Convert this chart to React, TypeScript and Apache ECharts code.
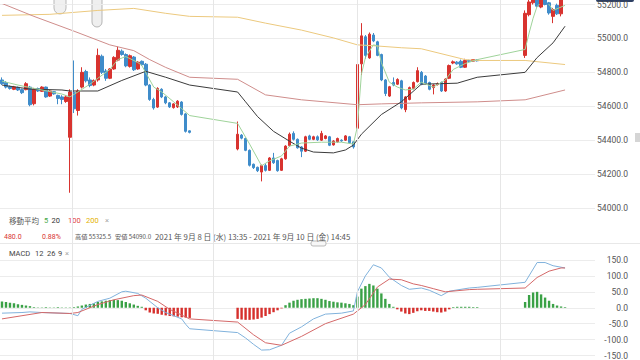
import React, { useEffect, useRef } from 'react';
import * as echarts from 'echarts';

// ---------- DATA ----------
const SLOT_COUNT = 149;
const categories = Array.from({ length: SLOT_COUNT }, (_, i) => `bar${i}`);

// candles: [open, close, low, high]
const session1Candles: number[][] = [
  [54755, 54733, 54725, 54770], [54740, 54713, 54705, 54748], [54716, 54705, 54698, 54722], [54700, 54714, 54695, 54720],
  [54712, 54696, 54690, 54716], [54698, 54680, 54672, 54704], [54698, 54733, 54694, 54742], [54713, 54609, 54600, 54720],
  [54615, 54702, 54605, 54708], [54704, 54690, 54684, 54710], [54688, 54713, 54684, 54718], [54713, 54655, 54650, 54716],
  [54660, 54690, 54655, 54694], [54686, 54673, 54668, 54690], [54664, 54646, 54612, 54668], [54655, 54640, 54612, 54665],
  [54628, 54655, 54620, 54665], [54417, 54684, 54090, 54700], [54680, 54585, 54560, 54870], [54575, 54690, 54545, 54700],
  [54713, 54800, 54705, 54830], [54805, 54750, 54740, 54815], [54755, 54722, 54712, 54770], [54725, 54752, 54718, 54758],
  [54755, 54900, 54745, 54940], [54895, 54800, 54790, 54905], [54808, 54765, 54750, 54820], [54765, 54820, 54760, 54825],
  [54820, 54888, 54815, 54895], [54872, 54930, 54865, 54952], [54925, 54905, 54898, 54935], [54905, 54838, 54830, 54912],
  [54835, 54898, 54828, 54905], [54890, 54815, 54808, 54896], [54820, 54860, 54815, 54866], [54865, 54845, 54838, 54870],
  [54848, 54725, 54718, 54855], [54725, 54640, 54632, 54730], [54640, 54590, 54580, 54650], [54595, 54705, 54590, 54712],
  [54700, 54655, 54648, 54706], [54655, 54620, 54612, 54660], [54620, 54596, 54590, 54625], [54592, 54614, 54586, 54618],
  [54596, 54630, 54590, 54636], [54625, 54552, 54545, 54630], [54555, 54452, 54445, 54560], [54455, 54446, 54440, 54458],
];
const gap1 = 11;
const session2Candles: number[][] = [
  [54348, 54435, 54340, 54510], [54430, 54412, 54405, 54436], [54410, 54340, 54335, 54415], [54340, 54252, 54245, 54345],
  [54258, 54238, 54230, 54262], [54240, 54220, 54212, 54244], [54212, 54250, 54157, 54256], [54250, 54222, 54215, 54262],
  [54222, 54295, 54218, 54300], [54295, 54267, 54260, 54325], [54280, 54220, 54214, 54285], [54222, 54290, 54218, 54296],
  [54290, 54365, 54285, 54370], [54368, 54435, 54362, 54445], [54440, 54405, 54398, 54452], [54405, 54355, 54350, 54410],
  [54360, 54335, 54300, 54365], [54335, 54420, 54330, 54426], [54425, 54405, 54400, 54432], [54405, 54420, 54400, 54426],
  [54420, 54402, 54396, 54428], [54400, 54440, 54395, 54455], [54410, 54425, 54405, 54430], [54420, 54370, 54365, 54425],
  [54372, 54395, 54368, 54400], [54390, 54410, 54385, 54415], [54400, 54396, 54390, 54405], [54400, 54425, 54395, 54430],
  [54420, 54385, 54378, 54425], [54390, 54360, 54350, 54395],
  [54470, 54846, 54450, 54870], [54850, 55015, 54785, 55090], [55010, 54900, 54880, 55020], [54885, 55025, 54880, 55035],
  [55020, 54985, 54978, 55032], [54980, 54900, 54895, 54986], [54905, 54755, 54748, 54910], [54755, 54675, 54660, 54760],
  [54660, 54715, 54655, 54720], [54740, 54725, 54718, 54770], [54730, 54758, 54725, 54765], [54750, 54590, 54582, 54756],
  [54580, 54655, 54565, 54660], [54640, 54710, 54635, 54716], [54705, 54740, 54700, 54746], [54745, 54810, 54740, 54830],
  [54800, 54730, 54724, 54808], [54778, 54735, 54728, 54784], [54740, 54700, 54694, 54745], [54710, 54725, 54670, 54730],
  [54728, 54733, 54722, 54740], [54740, 54690, 54684, 54746], [54690, 54760, 54685, 54765], [54765, 54840, 54760, 54846],
  [54855, 54862, 54848, 54870], [54860, 54850, 54845, 54866], [54865, 54830, 54825, 54875], [54830, 54870, 54826, 54880],
  [54870, 54865, 54860, 54874], [54866, 54875, 54862, 54878], [54873, 54868, 54864, 54877],
];
const gap2 = 11;
const session3Candles: number[][] = [
  [54900, 55148, 54885, 55165], [55140, 55215, 55130, 55240], [55210, 55290, 55200, 55325.5], [55290, 55190, 55182, 55300],
  [55185, 55260, 55178, 55270], [55255, 55200, 55195, 55262], [55210, 55150, 55140, 55215], [55130, 55170, 55090, 55180],
  [55195, 55145, 55138, 55205], [55145, 55230, 55130, 55240], [55222, 55250, 55215, 55258],
];
const trailingEmpty = 7;

// moving averages: [slot, value]
const ma5: number[][] = [
  [0, 54748], [4, 54725], [10, 54696], [15, 54672], [17, 54655], [19, 54684], [22, 54730], [24, 54765], [27, 54817],
  [29, 54875], [31, 54893], [34, 54858], [35, 54841], [38, 54713], [40, 54684], [43, 54626], [45, 54586], [47, 54545],
  [59, 54499], [62, 54377], [65, 54249], [67, 54278], [70, 54307], [72, 54365], [75, 54383], [80, 54388], [85, 54388],
  [88, 54377], [89, 54481], [90, 54788], [91, 54887], [93, 54962], [94, 54957], [95, 54858], [97, 54742], [99, 54713],
  [101, 54696], [103, 54701], [105, 54742], [108, 54713], [111, 54754], [113, 54817], [116, 54852], [119, 54875],
  [131, 54935], [132, 55032], [133, 55119], [134, 55189], [136, 55235], [138, 55165], [141, 55195],
];
const ma20: number[][] = [
  [0, 54725], [7, 54701], [15, 54696], [17, 54690], [24, 54690], [30, 54752], [36, 54806], [41, 54771], [47, 54725],
  [59, 54684], [61, 54626], [64, 54539], [68, 54452], [72, 54394], [75, 54353], [78, 54330], [83, 54325], [86, 54342],
  [88, 54371], [90, 54435], [95, 54551], [100, 54626], [105, 54730], [114, 54736], [119, 54771], [131, 54800],
  [134, 54887], [138, 54974], [141, 55072],
];
const ma100: number[][] = [
  [0, 55206], [8, 55130], [18, 55043], [27, 54962], [33, 54928], [37, 54875], [41, 54829], [47, 54771], [59, 54759],
  [66, 54667], [75, 54638], [89, 54609], [95, 54614], [105, 54620], [119, 54626], [131, 54638], [141, 54696],
];
const ma200: number[][] = [
  [0, 55136], [12, 55142], [24, 55165], [33, 55177], [41, 55148], [47, 55130], [59, 55125], [66, 55090], [75, 55049],
  [83, 55003], [89, 54962], [93, 54957], [100, 54945], [105, 54939], [116, 54875], [119, 54870], [131, 54870], [141, 54846],
];

// MACD histogram per slot
const hist1 = [
  20, 18, 16, 14, 11, 9, 7, 5, 2, 1, 1, 2, 1, 1, 2, 1, 1, 1, 2, 4, 7, 10, 12, 14, 18, 20, 22, 24, 25, 24, 22, 18, 14, 10,
  6, 3, -8, -15, -18, -19, -22, -24, -26, -27, -28, -30, -31, -32,
];
const hist2 = [
  -35, -37, -38, -38, -37, -35, -31, -26, -20, -14, -8,
  -2, 8, 16, 22, 25, 27, 28, 29, 30, 30, 28, 25, 21, 19, 17, 16, 14, 12, 8,
  35, 60, 68, 75, 70, 60, 45, 28, 12, 3,
  -5, -12, -18, -20, -16, -11, -8, -10, -10, -12, -14, -15, -12, -5,
  2, 3, 3, 3, 3, 2, 2,
];
const hist3 = [18, 40, 48, 50, 42, 32, 22, 12, 7, 4, 2];

const macdLine: number[][] = [
  [0, -17], [5, -15], [7, -13], [10, -15], [17, -18], [19, -25], [20, -5], [24, 20], [27, 30], [30, 50], [31, 52],
  [34, 45], [36, 30], [39, 0], [41, -15], [45, -35], [46, -52], [47, -66], [59, -78], [61, -95], [63, -115], [65, -133],
  [67, -132], [70, -118], [72, -80], [75, -60], [78, -35], [81, -20], [85, -17], [88, -10], [89, 50], [91, 100],
  [93, 135], [95, 125], [97, 96], [100, 70], [102, 58], [105, 62], [107, 55], [110, 38], [112, 52], [117, 62],
  [119, 64], [131, 80], [134, 142], [136, 142], [138, 132], [141, 125],
];
const signalLine: number[][] = [
  [0, -35], [5, -25], [10, -15], [17, -18], [19, -15], [24, 10], [28, 25], [33, 38], [35, 40], [39, 20], [42, -5],
  [47, -35], [59, -45], [63, -85], [66, -110], [70, -118], [75, -90], [81, -50], [88, -20], [91, 10], [94, 65],
  [97, 90], [100, 88], [103, 75], [105, 70], [108, 60], [111, 50], [117, 57], [119, 58], [131, 62], [134, 95],
  [137, 115], [140, 125], [141, 125],
];

// session boundaries (slot units)
const sessionBreaks = [17.5, 53, 89, 124.7];

const priceTicks = { min: 54000, max: 55200, step: 200 };
const macdTicks = { min: -150, max: 150, step: 50 };

// ---------- COLORS ----------
const UP = '#d8332f';
const DOWN = '#3f8cca';
const GRID = '#ececec';
const LABEL = '#555';
const NUM_FONT = 'Roboto, "Noto Sans", sans-serif';
const CJK_FONT = '"Noto Sans CJK JP", "Noto Sans", sans-serif';

const fill = (n: number) => Array.from({ length: n }, () => '-');

export default function App() {
  const ref = useRef<HTMLDivElement>(null);

  useEffect(() => {
    if (!ref.current) return;
    const chart = echarts.init(ref.current, undefined, { renderer: 'svg' });

    const candles = [
      ...session1Candles, ...fill(gap1), ...session2Candles, ...fill(gap2), ...session3Candles, ...fill(trailingEmpty),
    ];
    const hist = [...hist1, ...fill(gap1), ...hist2, ...fill(gap2), ...hist3, ...fill(trailingEmpty)];

    const hiddenCat = (gridIndex: number) => ({
      type: 'category', gridIndex, data: categories, boundaryGap: true,
      axisLine: { show: false }, axisTick: { show: false }, axisLabel: { show: false }, splitLine: { show: false },
    });
    const rightAxis = (gridIndex: number, t: { min: number; max: number; step: number }) => ({
      type: 'value', gridIndex, position: 'right', min: t.min, max: t.max, interval: t.step,
      axisLine: { show: false }, axisTick: { show: false },
      axisLabel: {
        align: 'right', margin: 33, fontSize: 8.5, color: LABEL, fontFamily: NUM_FONT,
        formatter: (v: number) => v.toFixed(1),
      },
      splitLine: { lineStyle: { color: GRID, width: 1 } },
    });
    const maSeries = (data: number[][], color: string) => ({
      type: 'line', xAxisIndex: 0, yAxisIndex: 0, data, symbol: 'none', smooth: false, z: 3,
      lineStyle: { color, width: 1 }, silent: true,
    });

    const txt = (x: number, y: number, text: string, color: string, size: number, family = CJK_FONT) => ({
      type: 'text', x, y, silent: true,
      style: { text, fill: color, font: `${size}px ${family}`, verticalAlign: 'middle' },
    });

    const option: any = {
      animation: false,
      backgroundColor: '#ffffff',
      grid: [
        { left: 0, right: 45, top: 1, height: 207 },
        { left: 0, right: 45, top: 260, height: 100 },
        { left: 0, right: 45, top: 0, height: 360 },
      ],
      xAxis: [
        hiddenCat(0),
        hiddenCat(1),
        { type: 'value', gridIndex: 2, min: -0.5, max: SLOT_COUNT - 0.5, show: false },
      ],
      yAxis: [
        rightAxis(0, priceTicks),
        rightAxis(1, macdTicks),
        { type: 'value', gridIndex: 2, min: 0, max: 1, show: false },
      ],
      series: [
        {
          type: 'line', xAxisIndex: 2, yAxisIndex: 2, data: [[0, -1]], symbol: 'none', silent: true, z: 0,
          lineStyle: { opacity: 0 },
          markLine: {
            symbol: ['none', 'none'], silent: true, label: { show: false },
            lineStyle: { color: '#e6e6e6', type: 'solid', width: 1 },
            data: sessionBreaks.map((v) => ({ xAxis: v })),
          },
        },
        {
          type: 'candlestick', xAxisIndex: 0, yAxisIndex: 0, data: candles, barWidth: 3, clip: true, z: 2,
          itemStyle: { color: UP, color0: DOWN, borderColor: UP, borderColor0: DOWN, borderWidth: 1 },
        },
        maSeries(ma200, '#ecc97e'),
        maSeries(ma100, '#cf8d8b'),
        maSeries(ma20, '#3b3b3b'),
        maSeries(ma5, '#9fd39a'),
        {
          type: 'bar', xAxisIndex: 1, yAxisIndex: 1, data: hist, barWidth: 2.4, silent: true,
          itemStyle: { color: (p: any) => (p.value >= 0 ? '#3aa146' : '#d62f2c') },
        },
        {
          type: 'line', xAxisIndex: 1, yAxisIndex: 1, data: macdLine, symbol: 'none', silent: true, z: 3,
          lineStyle: { color: '#80b2dc', width: 1 },
        },
        {
          type: 'line', xAxisIndex: 1, yAxisIndex: 1, data: signalLine, symbol: 'none', silent: true, z: 3,
          lineStyle: { color: '#d46868', width: 1 },
        },
      ],
      graphic: [
        // decorative paws at the top
        { type: 'rect', silent: true, shape: { x: 54, y: -8, width: 12, height: 22, r: [0, 0, 6, 6] },
          style: { fill: '#f0f0f0', stroke: '#b9b9b9', lineWidth: 1 } },
        { type: 'rect', silent: true, shape: { x: 92, y: -8, width: 10, height: 35, r: [0, 0, 5, 5] },
          style: { fill: '#efefef', stroke: '#b5b5b5', lineWidth: 1 } },
        // top-right price tag edge
        { type: 'rect', silent: true, shape: { x: 596, y: -5, width: 38, height: 7, r: 2 },
          style: { fill: '#2d3f63' } },
        // right edge scroll block
        { type: 'rect', silent: true, shape: { x: 635, y: 133, width: 5, height: 9 }, style: { fill: '#d5d5d5' } },
        // pane divider + handle
        { type: 'line', silent: true, shape: { x1: 0, y1: 243.5, x2: 640, y2: 243.5 },
          style: { stroke: '#e8e8e8', lineWidth: 1 } },
        { type: 'rect', silent: true, shape: { x: 311, y: 241, width: 15, height: 5, r: 2 },
          style: { fill: '#f7f7f7', stroke: '#aaaaaa', lineWidth: 0.8 } },
        // legend row
        txt(9, 220.5, '移動平均', LABEL, 7.5),
        txt(44, 220.5, '5', '#45a845', 7.5, NUM_FONT),
        txt(51.5, 220.5, '20', '#333333', 7.5, NUM_FONT),
        txt(68, 220.5, '100', '#e0453f', 7.5, NUM_FONT),
        txt(86, 220.5, '200', '#e4b200', 7.5, NUM_FONT),
        txt(105, 220.5, '×', '#9a9a9a', 7.5, NUM_FONT),
        // info row
        txt(4, 236.5, '480.0', UP, 7, NUM_FONT),
        txt(42, 236.5, '0.88%', UP, 7, NUM_FONT),
        txt(75, 236.5, '高値 55325.5', LABEL, 6.2),
        txt(115, 236.5, '安値 54090.0', LABEL, 6.2),
        txt(155, 236.5, '2021 年 9月 8 日 (水) 13:35 - 2021 年 9月 10 日 (金) 14:45', LABEL, 7.8),
        // MACD row
        txt(9, 253, 'MACD', '#444444', 7.5, NUM_FONT),
        txt(35, 253, '12', '#444444', 7.5, NUM_FONT),
        txt(47, 253, '26', '#444444', 7.5, NUM_FONT),
        txt(58, 253, '9', '#444444', 7.5, NUM_FONT),
        txt(65, 253, '×', '#9a9a9a', 7.5, NUM_FONT),
      ],
    };

    chart.setOption(option);
    return () => chart.dispose();
  }, []);

  return (
    <div
      ref={ref}
      style={{ position: 'fixed', left: 0, top: 0, width: 640, height: 360, background: '#fff' }}
    />
  );
}
